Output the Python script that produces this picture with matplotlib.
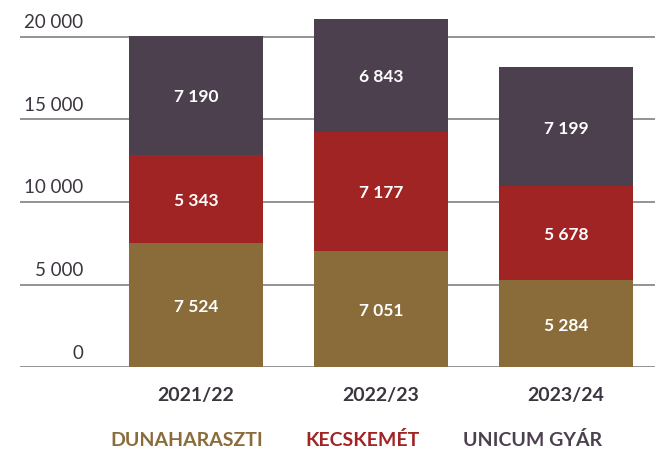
import matplotlib
matplotlib.use('Agg')
import matplotlib.pyplot as plt
import matplotlib.transforms as mtransforms

### DATA ###
years = ['2021/22', '2022/23', '2023/24']
series_names = ['DUNAHARASZTI', 'KECSKEMÉT', 'UNICUM GYÁR']
dunaharaszti = [7524, 7051, 5284]
kecskemet = [5343, 7177, 5678]
unicum_gyar = [7190, 6843, 7199]
y_ticks = [0, 5000, 10000, 15000, 20000]

### STYLE ###
COLORS = ['#8A6C3A', '#A02424', '#4C404E']
TEXT_DARK = '#3C3540'
plt.rcParams['font.family'] = ['Lato', 'DejaVu Sans']


def fmt(v):
    # Hungarian style thousands separator (space)
    return f'{v:,}'.replace(',', ' ')


def main():
    fig = plt.figure(figsize=(6.55, 4.5), dpi=100)
    ax = fig.add_axes([20 / 655, 82.7 / 450, 635 / 655, 355.5 / 450])

    x = list(range(len(years)))
    width = 0.724
    bottoms = [0] * len(years)
    for values, color in zip([dunaharaszti, kecskemet, unicum_gyar], COLORS):
        bars = ax.bar(x, values, width, bottom=bottoms, color=color, zorder=3)
        for rect, v, b in zip(bars, values, bottoms):
            ax.text(rect.get_x() + rect.get_width() / 2, b + v / 2 - 120, fmt(v),
                    ha='center', va='center', color='white', fontsize=12.5,
                    fontweight='bold', zorder=4)
        bottoms = [b + v for b, v in zip(bottoms, values)]

    ax.set_xlim(-0.95, 2.48)
    ax.set_ylim(0, 21500)

    # Gridlines with labels sitting just above them
    trans = mtransforms.blended_transform_factory(ax.transAxes, ax.transData)
    for t in y_ticks:
        ax.axhline(t, color='#808080', linewidth=1.2, zorder=1)
        ax.text(63 / 635, t + 330, fmt(t), transform=trans, ha='right',
                va='bottom', fontsize=13.5, color=TEXT_DARK)

    for spine in ax.spines.values():
        spine.set_visible(False)
    ax.set_yticks([])
    ax.set_xticks(x)
    ax.set_xticklabels(years, fontsize=14, fontweight='bold', color=TEXT_DARK)
    ax.tick_params(axis='x', length=0, pad=14)

    # Legend as coloured text
    legend_x = [110, 305, 463]
    for name, color, lx in zip(series_names, COLORS, legend_x):
        fig.text(lx / 655, 1 - 440 / 450, name, ha='left', va='center',
                 fontsize=14, fontweight='bold', color=color)

    fig.savefig('out.png', dpi=100)


if __name__ == '__main__':
    main()
